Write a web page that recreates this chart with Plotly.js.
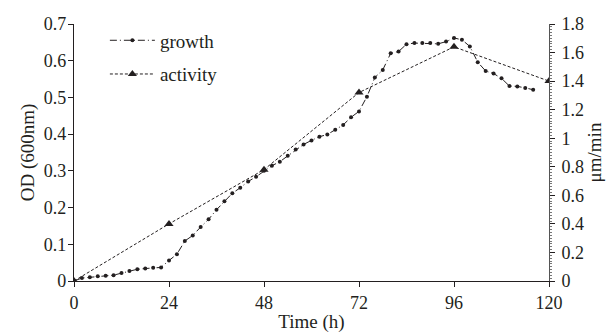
<!DOCTYPE html>
<html>
<head>
<meta charset="utf-8">
<script src="https://cdn.plot.ly/plotly-3.0.1.min.js"></script>
<style>html,body{margin:0;padding:0;background:#fff;}#chart{width:608px;height:333px;}</style>
</head>
<body>
<div id="chart"></div>
<script>
const growthTime = [0,2,4,6,8,10,12,14,16,18,20,22,24,26,28,30,32,34,36,38,40,42,44,46,48,50,52,54,56,58,60,62,64,66,68,70,72,74,76,78,80,82,84,86,88,90,92,94,96,98,100,102,104,106,108,110,112,114,116];
const growthOD = [0,0.008,0.010,0.013,0.014,0.016,0.022,0.027,0.032,0.034,0.036,0.037,0.056,0.073,0.109,0.124,0.147,0.168,0.194,0.217,0.239,0.254,0.271,0.284,0.300,0.314,0.325,0.341,0.358,0.372,0.383,0.393,0.399,0.412,0.425,0.446,0.462,0.502,0.554,0.575,0.620,0.625,0.645,0.648,0.648,0.648,0.646,0.652,0.662,0.657,0.639,0.596,0.572,0.565,0.552,0.531,0.530,0.526,0.521];
const activityTime = [0,24,48,72,96,120];
const activityRate = [0,0.40,0.78,1.32,1.64,1.40];
const xTicks = [0,24,48,72,96,120];

const fam = '"Liberation Serif", "DejaVu Serif", serif';
const tickFont = {family:fam, size:18, color:'#231f20'};
const titleFont = {family:fam, size:19, color:'#231f20'};

const traces = [
  {x:growthTime, y:growthOD, name:'growth', type:'scatter', mode:'lines+markers',
   line:{color:'#231f20', width:1, dash:'7px,3px,1px,3px'}, marker:{symbol:'circle', size:4, color:'#231f20'},
   legendgroup:'g1', yaxis:'y'},
  {x:activityTime, y:activityRate, name:'activity', type:'scatter', mode:'lines+markers',
   line:{color:'#231f20', width:1, dash:'3px,2px'}, marker:{symbol:'triangle-up', size:8, color:'#231f20'},
   legendgroup:'g2', yaxis:'y2'}
];

const layout = {
  width:608, height:333,
  margin:{l:74, r:59, t:24, b:52},
  paper_bgcolor:'#fff', plot_bgcolor:'#fff',
  font:tickFont,
  showlegend:true,
  legend:{x:0.065, y:1.01, xanchor:'left', yanchor:'top', bgcolor:'rgba(0,0,0,0)',
          traceorder:'grouped', tracegroupgap:6, itemwidth:45, font:titleFont},
  xaxis:{range:[0,120], tickvals:xTicks, ticktext:xTicks.map(String), ticks:'outside', ticklen:5,
         tickcolor:'#231f20', showline:true, linecolor:'#231f20', linewidth:1.2, showgrid:false,
         zeroline:false, tickfont:tickFont, title:{text:'Time (h)', font:titleFont, standoff:5}},
  yaxis:{range:[0,0.7], dtick:0.1, ticks:'outside', ticklen:5, tickcolor:'#231f20',
         showline:true, linecolor:'#231f20', linewidth:1.2, showgrid:false, zeroline:false,
         ticklabelstandoff:-2,
         tickformat:'.1~f', tickfont:tickFont, title:{text:'OD (600nm)', font:titleFont, standoff:4}},
  yaxis2:{range:[0,1.8], dtick:0.2, overlaying:'y', side:'right', anchor:'x',
          ticks:'outside', ticklen:5, tickcolor:'#231f20', showline:true, linecolor:'#555',
          linewidth:1, showgrid:false, zeroline:false, tickformat:'.1~f', tickfont:tickFont,
          ticklabelstandoff:3,
          minor:{dtick:0.02, ticks:'outside', ticklen:2, tickcolor:'#777'},
          title:{text:'μm/min', font:titleFont, standoff:4}}
};

Plotly.newPlot('chart', traces, layout, {displayModeBar:false, staticPlot:true});
</script>
</body>
</html>
